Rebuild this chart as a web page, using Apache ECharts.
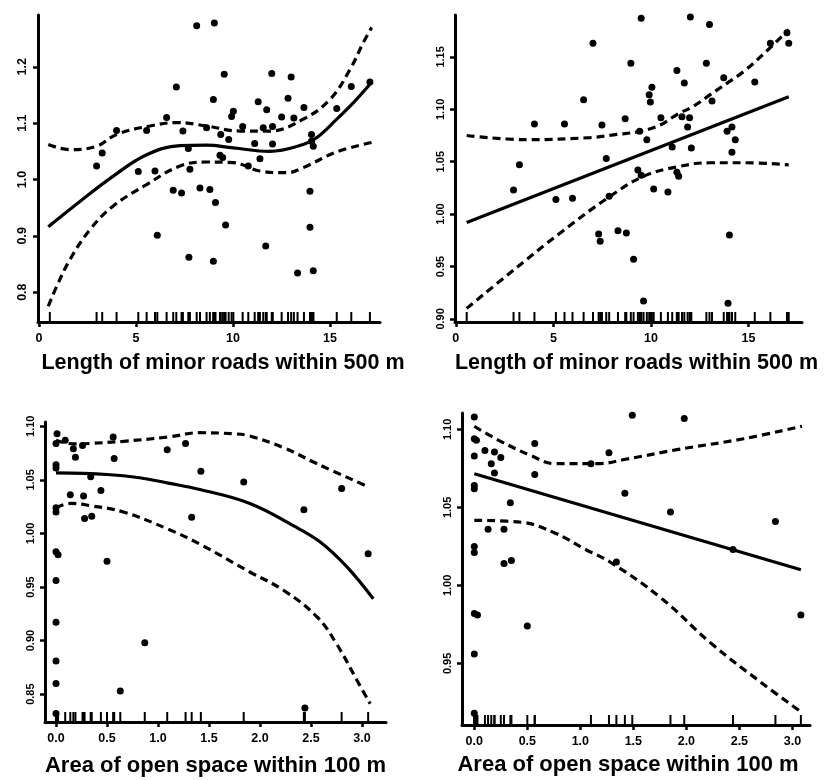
<!DOCTYPE html>
<html>
<head>
<meta charset="utf-8">
<script src="https://cdn.jsdelivr.net/npm/echarts@6/dist/echarts.min.js"></script>
<style>
  html, body { margin: 0; padding: 0; background: #fff; }
  #chart { width: 828px; height: 780px; }
</style>
</head>
<body>
<div id="chart"></div>
<script>
// ---- data ----

// top-left: minor roads, spline fit
const roadPtsA = [
  [8.13,1.273],[9.04,1.278],[9.55,1.187],[7.08,1.164],[8.99,1.142],[12.0,1.188],[13.0,1.182],[12.84,1.144],
  [11.3,1.138],[16.1,1.165],[17.06,1.173],[11.74,1.124],[13.66,1.128],[10.02,1.121],[9.93,1.112],[6.58,1.110],
  [12.51,1.111],[13.14,1.109],[15.35,1.126],[4.0,1.087],[5.55,1.087],[7.42,1.086],[8.64,1.092],[10.5,1.094],
  [11.56,1.092],[12.04,1.094],[9.37,1.080],[9.78,1.071],[14.05,1.080],[14.05,1.068],[11.12,1.064],[12.04,1.063],
  [14.14,1.059],[7.70,1.055],[9.33,1.043],[9.47,1.039],[11.39,1.037],[2.97,1.024],[3.26,1.047],[5.12,1.014],
  [5.98,1.015],[7.78,1.018],[10.79,1.024],[6.92,0.981],[7.35,0.976],[8.30,0.985],[8.81,0.982],[9.1,0.959],
  [13.97,0.979],[9.62,0.919],[6.1,0.901],[13.97,0.915],[11.69,0.882],[7.73,0.862],[8.99,0.855],[13.33,0.834],
  [14.14,0.838]
];
const roadFitA = [[0.48,0.916],[2.11,0.961],[3.83,1.006],[5.55,1.044],[7.27,1.060],[8.64,1.061],[10.02,1.056],
  [11.9,1.050],[13.62,1.062],[14.31,1.074],[15.35,1.107],[16.2,1.136],[17.06,1.169]];
const roadUpA = [[0.48,1.062],[1.6,1.053],[2.97,1.059],[4.0,1.080],[5.72,1.095],[7.1,1.101],[8.64,1.095],
  [10.36,1.086],[11.9,1.086],[13.62,1.107],[15.0,1.142],[16.03,1.195],[16.72,1.243],[17.15,1.270]];
const roadLoA = [[0.48,0.775],[0.91,0.810],[1.6,0.858],[2.63,0.911],[3.83,0.953],[5.55,0.991],[7.27,1.024],
  [8.64,1.031],[10.02,1.030],[11.39,1.015],[12.77,1.012],[13.62,1.021],[15.35,1.049],[17.2,1.066]];

// top-right: minor roads, linear fit
const roadPtsB = [
  [9.50,1.187],[12.02,1.188],[13.0,1.181],[7.03,1.163],[16.97,1.173],[17.06,1.163],[16.12,1.163],[8.97,1.144],
  [12.84,1.144],[11.33,1.137],[11.71,1.125],[15.32,1.126],[13.73,1.130],[10.05,1.121],[9.91,1.114],[9.97,1.107],
  [13.13,1.108],[6.55,1.109],[4.03,1.086],[5.57,1.086],[7.49,1.085],[8.68,1.091],[10.51,1.092],[11.59,1.093],
  [11.98,1.092],[11.88,1.083],[9.42,1.079],[9.79,1.071],[13.90,1.079],[14.15,1.083],[14.32,1.071],[11.09,1.064],
  [12.07,1.063],[14.15,1.059],[7.71,1.053],[9.33,1.042],[9.50,1.037],[11.33,1.040],[11.42,1.036],[2.96,1.023],
  [3.26,1.047],[5.13,1.014],[5.98,1.015],[7.86,1.017],[10.14,1.024],[10.87,1.021],[7.32,0.981],[7.40,0.974],
  [8.31,0.984],[8.74,0.982],[9.11,0.957],[14.02,0.980],[9.62,0.917],[13.95,0.915]
];
const roadFitB = [[0.56,0.992],[17.06,1.112]];
const roadUpB = [[0.56,1.075],[3.64,1.071],[6.89,1.073],[8.26,1.076],[9.45,1.079],[10.48,1.085],[11.33,1.095],
  [12.19,1.103],[13.04,1.114],[13.9,1.125],[14.75,1.136],[15.78,1.153],[17.06,1.176]];
const roadLoB = [[0.56,0.910],[2.79,0.944],[5.35,0.982],[7.91,1.017],[9.62,1.036],[11.33,1.045],[13.04,1.049],
  [14.75,1.049],[17.06,1.047]];
const roadRugExtra = [0.56];

// bottom-left: open space, spline fit
const openPtsA = [
  [0.01,1.093],[0,1.084],[0.09,1.087],[0.17,1.079],[0.19,1.071],[0.26,1.082],[0.56,1.090],[0.57,1.070],
  [0,1.064],[0,1.061],[0.34,1.053],[0.44,1.040],[0.14,1.036],[0.27,1.035],[0,1.024],[0,1.020],[0.28,1.014],
  [0.35,1.016],[0,0.983],[0.02,0.980],[0.50,0.974],[0,0.956],[0,0.917],[0.87,0.898],[0,0.881],[0,0.860],
  [0.63,0.853],[0,0.832],[1.09,1.078],[1.27,1.084],[1.33,1.015],[1.42,1.058],[1.84,1.048],[2.43,1.022],
  [2.80,1.042],[3.06,0.981],[2.44,0.837]
];
const openFitA = [[0,1.0565],[0.50,1.055],[0.82,1.052],[1.10,1.047],[1.41,1.041],[1.90,1.028],[2.33,1.007],
  [2.59,0.992],[2.85,0.969],[3.11,0.939]];
const openUpA = [[0,1.087],[0.17,1.0835],[0.34,1.084],[0.66,1.086],[1.10,1.090],[1.41,1.094],[1.74,1.093],
  [1.90,1.091],[2.23,1.080],[2.56,1.065],[3.05,1.044]];
const openLoA = [[0,1.024],[0.14,1.028],[0.33,1.026],[0.66,1.020],[1.10,1.004],[1.41,0.990],[1.90,0.964],
  [2.23,0.947],[2.56,0.922],[2.75,0.897],[2.95,0.863],[3.08,0.841]];

// bottom-right: open space, linear fit
const openPtsB = [
  [0,1.108],[0,1.094],[0.02,1.093],[0.10,1.0865],[0.19,1.0855],[0.16,1.078],[0.25,1.082],[0,1.083],
  [0.19,1.072],[0.57,1.091],[0.57,1.071],[0,1.064],[0,1.062],[0.34,1.053],[0.13,1.036],[0.28,1.036],
  [0,1.025],[0,1.021],[0.28,1.014],[0.35,1.016],[0,0.982],[0.03,0.981],[0.50,0.974],[0,0.956],[0,0.918],
  [1.10,1.078],[1.27,1.085],[1.34,1.015],[1.42,1.059],[1.49,1.109],[1.98,1.107],[1.85,1.047],[2.44,1.023],
  [2.84,1.041],[3.08,0.981]
];
const openFitB = [[0,1.0716],[3.08,1.010]];
const openUpB = [[0,1.102],[0.23,1.093],[0.54,1.083],[0.76,1.078],[1.05,1.078],[1.16,1.078],[1.44,1.081],
  [1.91,1.087],[2.54,1.094],[3.09,1.102]];
const openLoB = [[0,1.0417],[0.45,1.0404],[0.76,1.0336],[1.05,1.023],[1.28,1.015],[1.76,0.992],[2.23,0.963],
  [2.7,0.938],[3.08,0.919]];

// tick values
const roadXTicks = [0, 5, 10, 15];
const openXTicks = [0, 0.5, 1.0, 1.5, 2.0, 2.5, 3.0];
const yTicksA = [0.8, 0.9, 1.0, 1.1, 1.2];
const yTicksB = [0.90, 0.95, 1.00, 1.05, 1.10, 1.15];
const yTicksC = [0.85, 0.90, 0.95, 1.00, 1.05, 1.10];
const yTicksD = [0.95, 1.00, 1.05, 1.10];

const roadTitle = "Length of minor roads within 500 m";
const openTitle = "Area of open space within 100 m";

// ---- layout ----
const FONT = "'Liberation Sans', Arial, sans-serif";

const panels = [
  { grid: { left: 38, top: 15, width: 342, height: 307 }, x: [-0.05, 17.58], y: [0.747, 1.292],
    xTicks: roadXTicks, xDec: 0, yTicks: yTicksA, yDec: 1, yFont: 12.5,
    title: roadTitle, titleSize: 21.5, nameGap: 30, namePad: [0, 0, 0, 28],
    pts: roadPtsA, fit: roadFitA, up: roadUpA, lo: roadLoA, rugExtra: roadRugExtra },
  { grid: { left: 455, top: 15, width: 347, height: 307 }, x: [-0.04, 17.74], y: [0.897, 1.190],
    xTicks: roadXTicks, xDec: 0, yTicks: yTicksB, yDec: 2, yFont: 11,
    title: roadTitle, titleSize: 21.5, nameGap: 30, namePad: [0, 0, 0, 16],
    pts: roadPtsB, fit: roadFitB, up: roadUpB, lo: roadLoB, rugExtra: roadRugExtra },
  { grid: { left: 45, top: 422, width: 341, height: 300 }, x: [-0.108, 3.235], y: [0.824, 1.104],
    xTicks: openXTicks, xDec: 1, yTicks: yTicksC, yDec: 2, yFont: 11,
    title: openTitle, titleSize: 22, nameGap: 33, namePad: [0, 0, 0, 0],
    pts: openPtsA, fit: openFitA, up: openUpA, lo: openLoA, rugExtra: [] },
  { grid: { left: 462, top: 413, width: 348, height: 312 }, x: [-0.116, 3.166], y: [0.9105, 1.1105],
    xTicks: openXTicks, xDec: 1, yTicks: yTicksD, yDec: 2, yFont: 11,
    title: openTitle, titleSize: 22, nameGap: 29, namePad: [0, 16, 0, 0],
    pts: openPtsB, fit: openFitB, up: openUpB, lo: openLoB, rugExtra: [] }
];

const axisLine = { onZero: false, lineStyle: { color: "#000", width: 3 } };
const axisTick = (vals) => ({ show: true, length: 5, customValues: vals, lineStyle: { color: "#000", width: 2.5 } });

const grids = [], xAxes = [], yAxes = [], series = [];

panels.forEach((p, i) => {
  grids.push(p.grid);

  xAxes.push({
    gridIndex: i, type: "value", min: p.x[0], max: p.x[1],
    axisLine: axisLine, axisTick: axisTick(p.xTicks), splitLine: { show: false },
    axisLabel: {
      customValues: p.xTicks, margin: 10, color: "#000", fontFamily: FONT, fontWeight: "bold", fontSize: 12.5,
      formatter: (v) => v.toFixed(p.xDec)
    },
    name: p.title, nameLocation: "middle", nameGap: p.nameGap,
    nameTextStyle: { color: "#000", fontFamily: FONT, fontWeight: "bold", fontSize: p.titleSize, padding: p.namePad }
  });

  yAxes.push({
    gridIndex: i, type: "value", min: p.y[0], max: p.y[1],
    axisLine: axisLine, axisTick: axisTick(p.yTicks), splitLine: { show: false },
    axisLabel: {
      customValues: p.yTicks, rotate: 90, margin: 9, color: "#000", fontFamily: FONT, fontWeight: "bold",
      fontSize: p.yFont, formatter: (v) => v.toFixed(p.yDec)
    }
  });

  // rug along the x axis
  const rugX = p.pts.map((d) => d[0]).concat(p.rugExtra);
  series.push({
    type: "scatter", xAxisIndex: i, yAxisIndex: i, silent: true,
    data: rugX.map((v) => [v, p.y[0]]),
    symbol: "rect", symbolSize: [2, 10], symbolOffset: [0, -5],
    itemStyle: { color: "#000", opacity: 1 }
  });

  // observations
  series.push({
    type: "scatter", xAxisIndex: i, yAxisIndex: i, data: p.pts,
    symbol: "circle", symbolSize: 7, itemStyle: { color: "#000", opacity: 1 }
  });

  // fit and confidence band
  const line = (data, type) => ({
    type: "line", xAxisIndex: i, yAxisIndex: i, data: data, smooth: 0.4,
    showSymbol: false, silent: true,
    lineStyle: { color: "#000", width: 3.2, type: type }
  });
  series.push(line(p.fit, "solid"));
  series.push(line(p.up, [8, 5]));
  series.push(line(p.lo, [8, 5]));
});

const myChart = echarts.init(document.getElementById("chart"));
myChart.setOption({
  animation: false,
  backgroundColor: "#fff",
  grid: grids,
  xAxis: xAxes,
  yAxis: yAxes,
  series: series
});
</script>
</body>
</html>
